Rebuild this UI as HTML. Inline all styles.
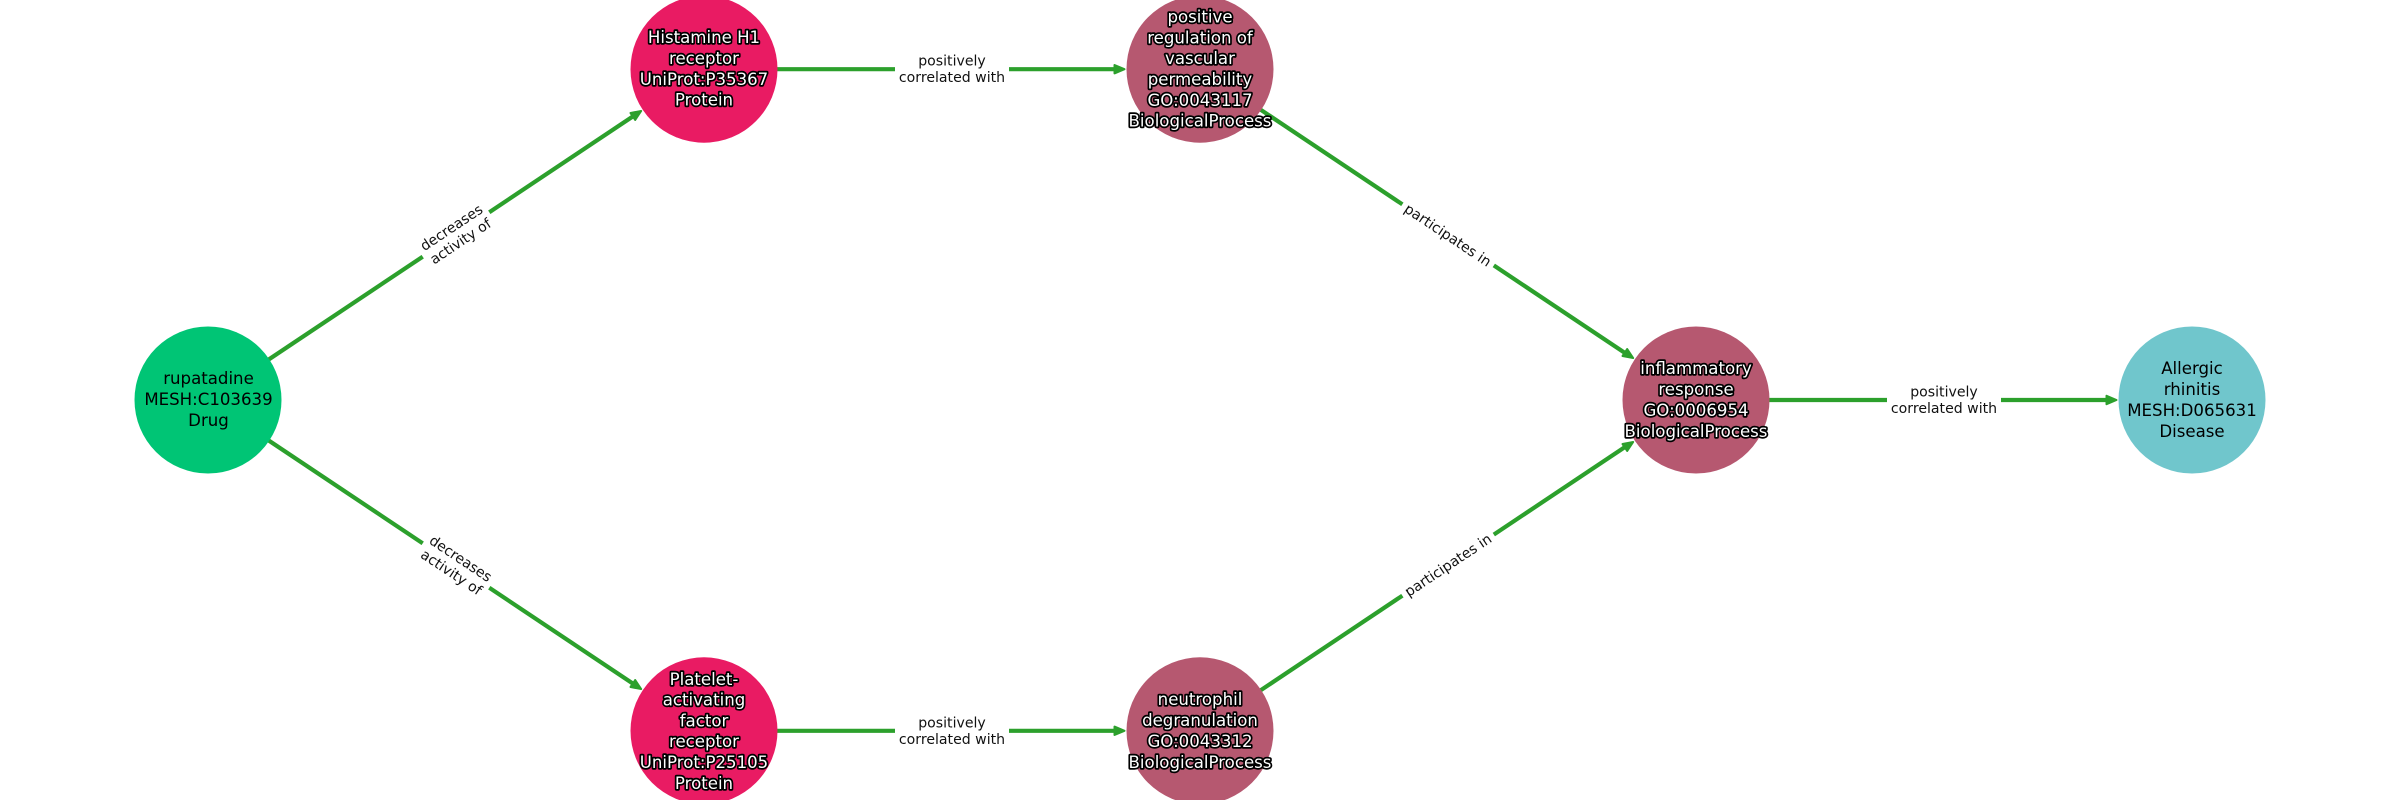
<!DOCTYPE html>
<html><head><meta charset="utf-8"><style>
html,body{margin:0;padding:0;background:#fff;width:2400px;height:800px;overflow:hidden}
svg{display:block}
text{font-family:"DejaVu Sans",sans-serif;text-anchor:middle}
.n{font-size:16.6px;fill:#000}
.h{font-size:16.6px;fill:#fff;stroke:#000;stroke-width:3.4px;paint-order:stroke;stroke-linejoin:round}
.e{font-size:14.1px;fill:#111}
.l{stroke:#2ca02c;stroke-width:4.2;fill:none}
.a{fill:#2ca02c;stroke:#2ca02c;stroke-width:2;stroke-linejoin:round}
</style></head><body>
<svg width="2400" height="800" viewBox="0 0 2400 800" xmlns="http://www.w3.org/2000/svg">
<rect width="2400" height="800" fill="#fff"/>
<line class="l" x1="208" y1="400" x2="635" y2="115"/>
<line class="l" x1="208" y1="400" x2="635" y2="685"/>
<line class="l" x1="704" y1="69.2" x2="1115" y2="69.2"/>
<line class="l" x1="704" y1="730.8" x2="1115" y2="730.8"/>
<line class="l" x1="1200" y1="69.2" x2="1625" y2="353"/>
<line class="l" x1="1200" y1="730.8" x2="1625" y2="447"/>
<line class="l" x1="1696" y1="400" x2="2107" y2="400"/>
<g class="a">
<polygon transform="translate(642,110.4) rotate(-33.7)" points="-1,0 -11,-4.2 -11,4.2"/>
<polygon transform="translate(642,689.6) rotate(33.7)" points="-1,0 -11,-4.2 -11,4.2"/>
<polygon transform="translate(1125.5,69.2)" points="-1,0 -11,-4.2 -11,4.2"/>
<polygon transform="translate(1125.5,730.8)" points="-1,0 -11,-4.2 -11,4.2"/>
<polygon transform="translate(1634,358.6) rotate(33.7)" points="-1,0 -11,-4.2 -11,4.2"/>
<polygon transform="translate(1634,441.4) rotate(-33.7)" points="-1,0 -11,-4.2 -11,4.2"/>
<polygon transform="translate(2117.5,400)" points="-1,0 -11,-4.2 -11,4.2"/>
</g>
<circle cx="208" cy="400" r="73.5" fill="#00C575"/>
<circle cx="704" cy="69.2" r="73.5" fill="#E91B63"/>
<circle cx="704" cy="730.8" r="73.5" fill="#E91B63"/>
<circle cx="1200" cy="69.2" r="73.5" fill="#B65870"/>
<circle cx="1200" cy="730.8" r="73.5" fill="#B65870"/>
<circle cx="1696" cy="400" r="73.5" fill="#B65870"/>
<circle cx="2192" cy="400" r="73.5" fill="#70C6CC"/>

<g transform="translate(456,234.5) rotate(-33.7)"><rect x="-40" y="-20" width="80" height="40" fill="#fff"/><text class="e" y="-3.5">decreases</text><text class="e" y="13">activity of</text></g>
<g transform="translate(456,565.5) rotate(33.7)"><rect x="-40" y="-20" width="80" height="40" fill="#fff"/><text class="e" y="-3.5">decreases</text><text class="e" y="13">activity of</text></g>
<g transform="translate(952,69)"><rect x="-57" y="-20" width="114" height="40" fill="#fff"/><text class="e" y="-3.5">positively</text><text class="e" y="13">correlated with</text></g>
<g transform="translate(952,731)"><rect x="-57" y="-20" width="114" height="40" fill="#fff"/><text class="e" y="-3.5">positively</text><text class="e" y="13">correlated with</text></g>
<g transform="translate(1944,400)"><rect x="-57" y="-20" width="114" height="40" fill="#fff"/><text class="e" y="-3.5">positively</text><text class="e" y="13">correlated with</text></g>
<g transform="translate(1448,235) rotate(33.7)"><rect x="-55" y="-14" width="110" height="28" fill="#fff"/><text class="e" y="5">participates in</text></g>
<g transform="translate(1448,565) rotate(-33.7)"><rect x="-55" y="-14" width="110" height="28" fill="#fff"/><text class="e" y="5">participates in</text></g>

<text class="n" x="208.5" y="384">rupatadine</text>
<text class="n" x="208.5" y="405">MESH:C103639</text>
<text class="n" x="208.5" y="426">Drug</text>

<text class="h" x="704" y="43.2">Histamine H1</text>
<text class="h" x="704" y="64">receptor</text>
<text class="h" x="704" y="84.8">UniProt:P35367</text>
<text class="h" x="704" y="105.6">Protein</text>

<text class="h" x="704" y="684.8">Platelet-</text>
<text class="h" x="704" y="705.6">activating</text>
<text class="h" x="704" y="726.4">factor</text>
<text class="h" x="704" y="747.2">receptor</text>
<text class="h" x="704" y="768">UniProt:P25105</text>
<text class="h" x="704" y="788.8">Protein</text>

<text class="h" x="1200" y="22.6">positive</text>
<text class="h" x="1200" y="43.4">regulation of</text>
<text class="h" x="1200" y="64.2">vascular</text>
<text class="h" x="1200" y="85">permeability</text>
<text class="h" x="1200" y="105.8">GO:0043117</text>
<text class="h" x="1200" y="126.6">BiologicalProcess</text>

<text class="h" x="1200" y="705">neutrophil</text>
<text class="h" x="1200" y="726">degranulation</text>
<text class="h" x="1200" y="747">GO:0043312</text>
<text class="h" x="1200" y="768">BiologicalProcess</text>

<text class="h" x="1696" y="374">inflammatory</text>
<text class="h" x="1696" y="395">response</text>
<text class="h" x="1696" y="416">GO:0006954</text>
<text class="h" x="1696" y="437">BiologicalProcess</text>

<text class="n" x="2192" y="374">Allergic</text>
<text class="n" x="2192" y="395">rhinitis</text>
<text class="n" x="2192" y="416">MESH:D065631</text>
<text class="n" x="2192" y="437">Disease</text>
</svg>
</body></html>
